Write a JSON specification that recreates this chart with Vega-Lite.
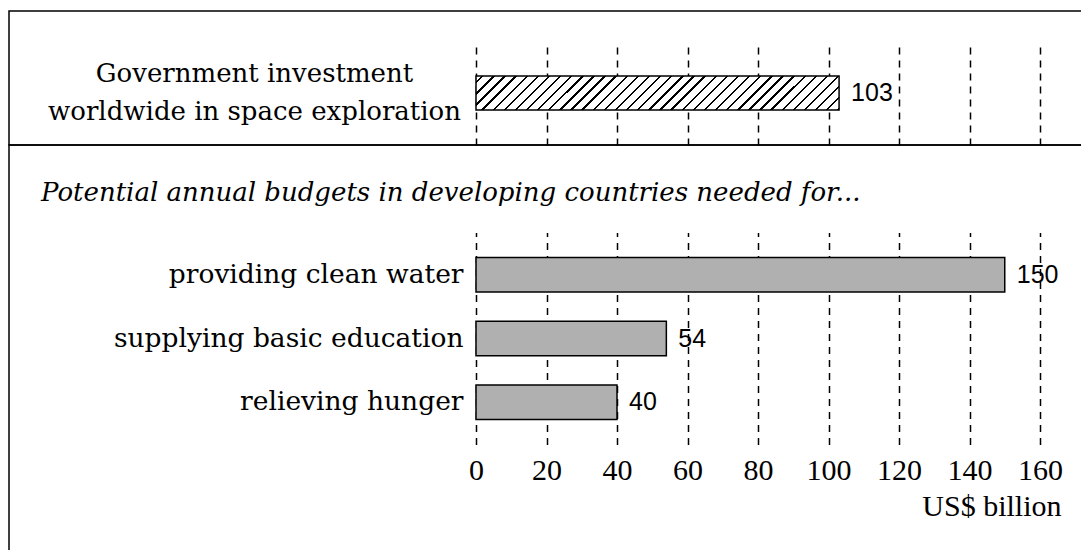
{
 "$schema": "https://vega.github.io/schema/vega-lite/v6.json",
 "padding": {"left": 8, "top": 10, "right": -3, "bottom": -3},
 "spacing": 0,
 "bounds": "flush",
 "background": "white",
 "config": {"view": {"stroke": "black", "strokeWidth": 1.5}, "axis": {"labelColor": "black", "titleColor": "black"}},
 "datasets": {
  "space": [{"item": "Government investment worldwide in space exploration", "value": 103}],
  "needs": [
   {"item": "providing clean water", "value": 150},
   {"item": "supplying basic education", "value": 54},
   {"item": "relieving hunger", "value": 40}
  ]
 },
 "vconcat": [
  {
   "width": 1076,
   "height": 134,
   "data": {"name": "space"},
   "encoding": {
    "y": {"field": "item", "type": "nominal", "sort": null,
     "scale": {"range": [65, 99], "paddingInner": 0, "paddingOuter": 0},
     "axis": {"title": null, "orient": "left", "offset": -467, "domain": false, "ticks": false, "labelAlign": "center", "labelBaseline": "middle", "labelPadding": 222, "labelOffset": -19, "labelFont": "DejaVu Serif", "labelFontSize": 26, "labelLineHeight": 38, "labelLimit": 1000, "labelExpr": "[slice(datum.label, 0, 21), slice(datum.label, 22)]"}},
    "x": {"field": "value", "type": "quantitative",
     "scale": {"domain": [0, 160], "range": [467, 1031], "nice": false},
     "axis": {"title": null, "orient": "bottom", "values": [0, 20, 40, 60, 80, 100, 120, 140, 160], "domain": false, "labels": false, "grid": false, "ticks": true, "tickSize": -102, "tickDash": [7, 6], "tickColor": "black", "tickWidth": 1.5}}
   },
   "layer": [
    {"mark": {"type": "bar", "stroke": "black", "strokeWidth": 1.5,
     "fill": {"gradient": "linear", "x1": 0, "y1": 0, "x2": 1.0842, "y2": 0.1016, "stops": [
      {"offset": 0, "color": "#fff"},
      {"offset": 0.014, "color": "#fff"}, {"offset": 0.014, "color": "#000"}, {"offset": 0.02, "color": "#000"}, {"offset": 0.02, "color": "#fff"},
      {"offset": 0.042, "color": "#fff"}, {"offset": 0.042, "color": "#000"}, {"offset": 0.048, "color": "#000"}, {"offset": 0.048, "color": "#fff"},
      {"offset": 0.07, "color": "#fff"}, {"offset": 0.07, "color": "#000"}, {"offset": 0.076, "color": "#000"}, {"offset": 0.076, "color": "#fff"},
      {"offset": 0.098, "color": "#fff"}, {"offset": 0.098, "color": "#000"}, {"offset": 0.104, "color": "#000"}, {"offset": 0.104, "color": "#fff"},
      {"offset": 0.126, "color": "#fff"}, {"offset": 0.126, "color": "#000"}, {"offset": 0.132, "color": "#000"}, {"offset": 0.132, "color": "#fff"},
      {"offset": 0.154, "color": "#fff"}, {"offset": 0.154, "color": "#000"}, {"offset": 0.16, "color": "#000"}, {"offset": 0.16, "color": "#fff"},
      {"offset": 0.182, "color": "#fff"}, {"offset": 0.182, "color": "#000"}, {"offset": 0.188, "color": "#000"}, {"offset": 0.188, "color": "#fff"},
      {"offset": 0.21, "color": "#fff"}, {"offset": 0.21, "color": "#000"}, {"offset": 0.216, "color": "#000"}, {"offset": 0.216, "color": "#fff"},
      {"offset": 0.238, "color": "#fff"}, {"offset": 0.238, "color": "#000"}, {"offset": 0.244, "color": "#000"}, {"offset": 0.244, "color": "#fff"},
      {"offset": 0.266, "color": "#fff"}, {"offset": 0.266, "color": "#000"}, {"offset": 0.272, "color": "#000"}, {"offset": 0.272, "color": "#fff"},
      {"offset": 0.294, "color": "#fff"}, {"offset": 0.294, "color": "#000"}, {"offset": 0.3, "color": "#000"}, {"offset": 0.3, "color": "#fff"},
      {"offset": 0.322, "color": "#fff"}, {"offset": 0.322, "color": "#000"}, {"offset": 0.328, "color": "#000"}, {"offset": 0.328, "color": "#fff"},
      {"offset": 0.35, "color": "#fff"}, {"offset": 0.35, "color": "#000"}, {"offset": 0.356, "color": "#000"}, {"offset": 0.356, "color": "#fff"},
      {"offset": 0.378, "color": "#fff"}, {"offset": 0.378, "color": "#000"}, {"offset": 0.384, "color": "#000"}, {"offset": 0.384, "color": "#fff"},
      {"offset": 0.406, "color": "#fff"}, {"offset": 0.406, "color": "#000"}, {"offset": 0.412, "color": "#000"}, {"offset": 0.412, "color": "#fff"},
      {"offset": 0.434, "color": "#fff"}, {"offset": 0.434, "color": "#000"}, {"offset": 0.44, "color": "#000"}, {"offset": 0.44, "color": "#fff"},
      {"offset": 0.462, "color": "#fff"}, {"offset": 0.462, "color": "#000"}, {"offset": 0.468, "color": "#000"}, {"offset": 0.468, "color": "#fff"},
      {"offset": 0.49, "color": "#fff"}, {"offset": 0.49, "color": "#000"}, {"offset": 0.496, "color": "#000"}, {"offset": 0.496, "color": "#fff"},
      {"offset": 0.518, "color": "#fff"}, {"offset": 0.518, "color": "#000"}, {"offset": 0.524, "color": "#000"}, {"offset": 0.524, "color": "#fff"},
      {"offset": 0.546, "color": "#fff"}, {"offset": 0.546, "color": "#000"}, {"offset": 0.552, "color": "#000"}, {"offset": 0.552, "color": "#fff"},
      {"offset": 0.574, "color": "#fff"}, {"offset": 0.574, "color": "#000"}, {"offset": 0.58, "color": "#000"}, {"offset": 0.58, "color": "#fff"},
      {"offset": 0.602, "color": "#fff"}, {"offset": 0.602, "color": "#000"}, {"offset": 0.608, "color": "#000"}, {"offset": 0.608, "color": "#fff"},
      {"offset": 0.63, "color": "#fff"}, {"offset": 0.63, "color": "#000"}, {"offset": 0.636, "color": "#000"}, {"offset": 0.636, "color": "#fff"},
      {"offset": 0.658, "color": "#fff"}, {"offset": 0.658, "color": "#000"}, {"offset": 0.664, "color": "#000"}, {"offset": 0.664, "color": "#fff"},
      {"offset": 0.686, "color": "#fff"}, {"offset": 0.686, "color": "#000"}, {"offset": 0.692, "color": "#000"}, {"offset": 0.692, "color": "#fff"},
      {"offset": 0.714, "color": "#fff"}, {"offset": 0.714, "color": "#000"}, {"offset": 0.72, "color": "#000"}, {"offset": 0.72, "color": "#fff"},
      {"offset": 0.742, "color": "#fff"}, {"offset": 0.742, "color": "#000"}, {"offset": 0.748, "color": "#000"}, {"offset": 0.748, "color": "#fff"},
      {"offset": 0.77, "color": "#fff"}, {"offset": 0.77, "color": "#000"}, {"offset": 0.776, "color": "#000"}, {"offset": 0.776, "color": "#fff"},
      {"offset": 0.798, "color": "#fff"}, {"offset": 0.798, "color": "#000"}, {"offset": 0.804, "color": "#000"}, {"offset": 0.804, "color": "#fff"},
      {"offset": 0.826, "color": "#fff"}, {"offset": 0.826, "color": "#000"}, {"offset": 0.832, "color": "#000"}, {"offset": 0.832, "color": "#fff"},
      {"offset": 0.854, "color": "#fff"}, {"offset": 0.854, "color": "#000"}, {"offset": 0.86, "color": "#000"}, {"offset": 0.86, "color": "#fff"},
      {"offset": 0.882, "color": "#fff"}, {"offset": 0.882, "color": "#000"}, {"offset": 0.888, "color": "#000"}, {"offset": 0.888, "color": "#fff"},
      {"offset": 0.91, "color": "#fff"}, {"offset": 0.91, "color": "#000"}, {"offset": 0.916, "color": "#000"}, {"offset": 0.916, "color": "#fff"},
      {"offset": 0.938, "color": "#fff"}, {"offset": 0.938, "color": "#000"}, {"offset": 0.944, "color": "#000"}, {"offset": 0.944, "color": "#fff"},
      {"offset": 0.966, "color": "#fff"}, {"offset": 0.966, "color": "#000"}, {"offset": 0.972, "color": "#000"}, {"offset": 0.972, "color": "#fff"},
      {"offset": 0.994, "color": "#fff"}, {"offset": 0.994, "color": "#000"}, {"offset": 1, "color": "#000"}
     ]}}},
    {"mark": {"type": "text", "align": "left", "baseline": "middle", "dx": 12, "font": "Liberation Sans", "fontSize": 25, "color": "black"},
     "encoding": {"text": {"field": "value", "type": "quantitative"}}}
   ]
  },
  {
   "width": 1076,
   "height": 409,
   "data": {"name": "needs"},
   "title": {"text": "Potential annual budgets in developing countries needed for...", "font": "DejaVu Serif", "fontStyle": "italic", "fontWeight": "normal", "fontSize": 26, "color": "black", "anchor": "start", "frame": "group", "orient": "top", "offset": -81.5, "dx": 32, "baseline": "alphabetic"},
   "encoding": {
    "y": {"field": "item", "type": "nominal", "sort": null,
     "scale": {"range": [112.5, 274.5], "paddingInner": 0.461, "paddingOuter": 0},
     "axis": {"title": null, "orient": "left", "offset": -467, "domain": false, "ticks": false, "labelAlign": "right", "labelBaseline": "middle", "labelPadding": 13, "labelFont": "DejaVu Serif", "labelFontSize": 26.5, "labelLimit": 1000}},
    "x": {"field": "value", "type": "quantitative",
     "scale": {"domain": [0, 160], "range": [467, 1031], "nice": false},
     "axis": {"orient": "bottom", "offset": -109.5, "values": [0, 20, 40, 60, 80, 100, 120, 140, 160], "domain": false, "grid": false, "ticks": true, "tickSize": -212, "tickDash": [7, 6], "tickColor": "black", "tickWidth": 1.5,
      "labels": true, "labelFlush": false, "labelFont": "Liberation Serif", "labelFontSize": 30, "labelPadding": 223, "labelBaseline": "top",
      "title": "US$ billion", "titleFont": "Liberation Serif", "titleFontSize": 30, "titleFontWeight": "normal", "titleX": 1052, "titleY": 62, "titleAlign": "right", "titleBaseline": "middle"}}
   },
   "layer": [
    {"mark": {"type": "bar", "stroke": "black", "strokeWidth": 1.5, "fill": "#b0b0b0"}},
    {"mark": {"type": "text", "align": "left", "baseline": "middle", "dx": 12, "font": "Liberation Sans", "fontSize": 25, "color": "black"},
     "encoding": {"text": {"field": "value", "type": "quantitative"}}}
   ]
  }
 ]
}
